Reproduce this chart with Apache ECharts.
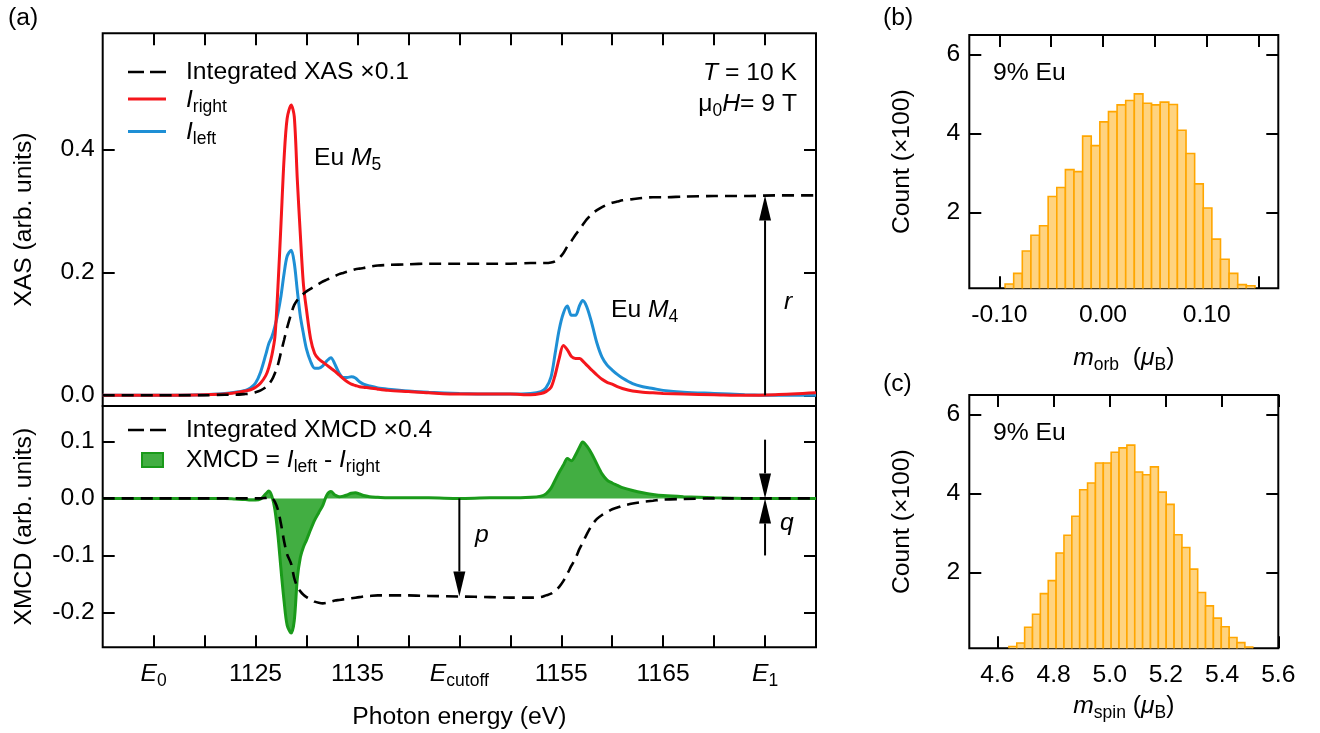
<!DOCTYPE html>
<html>
<head>
<meta charset="utf-8">
<script src="https://cdn.jsdelivr.net/npm/echarts/dist/echarts.min.js"></script>
<style>
html,body{margin:0;padding:0;background:#fff;}
#chart{width:1320px;height:733px;}
</style>
</head>
<body>
<div id="chart"></div>
<script>
// ---------------- data ----------------
const energy = [1110,1115,1120,1122,1123,1124,1124.5,1125,1125.5,1126,1126.3,1126.6,1126.9,1127.2,1127.5,1127.8,1128.1,1128.5,1128.8,1129.1,1129.4,1129.7,1130,1130.4,1130.8,1131.2,1131.6,1132,1132.4,1132.8,1133.2,1133.6,1134,1134.4,1134.8,1135.2,1135.6,1136.2,1137,1138,1140,1142,1145,1148,1150,1152,1153,1153.5,1154,1154.4,1154.8,1155.2,1155.6,1156,1156.4,1156.8,1157.1,1157.5,1158,1158.5,1159,1159.5,1160,1160.5,1161,1162,1163,1164,1165,1167,1170,1173,1176,1180];

const iRight = [0,0,0.001,0.002,0.004,0.007,0.009,0.013,0.020,0.032,0.045,0.065,0.095,0.177,0.28,0.385,0.45,0.472,0.453,0.35,0.26,0.18,0.139,0.092,0.068,0.059,0.054,0.049,0.044,0.039,0.033,0.027,0.022,0.018,0.016,0.014,0.013,0.012,0.010,0.008,0.006,0.004,0.002,0.002,0.002,0.001,0.003,0.006,0.013,0.033,0.060,0.081,0.074,0.063,0.060,0.060,0.056,0.049,0.041,0.033,0.026,0.021,0.018,0.014,0.011,0.007,0.005,0.004,0.003,0.002,0.001,0.000,0.001,0.004];

const iLeft = [0,0,0.001,0.003,0.005,0.008,0.012,0.020,0.038,0.066,0.084,0.095,0.112,0.134,0.162,0.198,0.226,0.236,0.215,0.17,0.128,0.10,0.075,0.055,0.044,0.044,0.048,0.056,0.061,0.050,0.036,0.029,0.029,0.030,0.028,0.022,0.018,0.015,0.012,0.010,0.007,0.005,0.003,0.002,0.002,0.003,0.006,0.012,0.030,0.068,0.107,0.133,0.145,0.130,0.130,0.146,0.154,0.144,0.117,0.085,0.062,0.049,0.041,0.034,0.028,0.019,0.014,0.011,0.008,0.005,0.003,0.001,0.000,0.000];

const intXAS = [0,0,0,0.001,0.001,0.002,0.003,0.005,0.008,0.013,0.018,0.025,0.036,0.05,0.07,0.09,0.11,0.133,0.147,0.155,0.161,0.165,0.169,0.173,0.177,0.181,0.185,0.188,0.191,0.194,0.197,0.199,0.201,0.203,0.205,0.206,0.207,0.209,0.211,0.212,0.213,0.214,0.214,0.214,0.214,0.215,0.215,0.215,0.216,0.218,0.223,0.231,0.242,0.251,0.261,0.270,0.277,0.286,0.295,0.301,0.306,0.310,0.313,0.315,0.317,0.319,0.321,0.322,0.322,0.323,0.324,0.324,0.325,0.325];

const xmcd = [0,0,0,0,-0.001,-0.002,-0.003,-0.003,-0.001,0.008,0.013,0.004,-0.02,-0.065,-0.125,-0.18,-0.222,-0.236,-0.214,-0.14,-0.103,-0.085,-0.073,-0.055,-0.038,-0.025,-0.012,0.006,0.012,0.006,0.003,0.004,0.006,0.009,0.010,0.008,0.005,0.003,0.002,0.001,0.001,0.001,0,0.001,0.001,0.002,0.004,0.008,0.018,0.032,0.046,0.058,0.070,0.066,0.076,0.090,0.099,0.092,0.078,0.060,0.043,0.032,0.027,0.023,0.019,0.014,0.010,0.007,0.005,0.003,0.001,0,0,0];

const intXMCD = [0,0,0,0,0,0,0,0,0,0.001,0.002,0.001,-0.006,-0.02,-0.045,-0.075,-0.098,-0.115,-0.14,-0.155,-0.163,-0.169,-0.173,-0.177,-0.181,-0.183,-0.184,-0.183,-0.181,-0.179,-0.178,-0.177,-0.176,-0.175,-0.174,-0.173,-0.172,-0.171,-0.170,-0.170,-0.170,-0.171,-0.172,-0.173,-0.174,-0.174,-0.173,-0.170,-0.167,-0.162,-0.155,-0.145,-0.132,-0.118,-0.105,-0.088,-0.078,-0.063,-0.047,-0.036,-0.029,-0.024,-0.019,-0.016,-0.013,-0.009,-0.006,-0.004,-0.002,-0.001,0,0,0,0];

// histogram (b): m_orb, counts in units of 100
const orbStart = -0.0945, orbWidth = 0.00831;
const orbCounts = [0.185,0.455,1.02,1.42,1.66,2.40,2.63,3.08,3.03,3.93,3.69,4.29,4.55,4.72,4.83,5.00,4.76,4.72,4.79,4.73,4.08,3.49,2.72,2.11,1.32,0.81,0.455,0.17,0.14];
// histogram (c): m_spin
const spinStart = 4.641, spinWidth = 0.028;
const spinCounts = [0.12,0.21,0.61,0.94,1.46,1.79,2.49,2.94,3.42,4.09,4.26,4.77,4.77,5.04,5.15,5.22,4.54,4.47,4.67,4.03,3.72,2.95,2.63,2.08,1.49,1.15,0.84,0.62,0.35,0.22,0.11];

// tick values / labels
const energyTicks = [1115,1120,1125,1130,1135,1140,1145,1150,1155,1160,1165,1170,1175];
const energyLabelValues = [1115,1125,1135,1145,1155,1165,1175];
const energyLabelTexts = ['{i|E}{s|0}','1125','1135','{i|E}{s|cutoff}','1155','1165','{i|E}{s|1}'];
const xasTicks = [0,0.2,0.4];
const xmcdTicks = [-0.2,-0.1,0,0.1];
const orbTicks = [-0.10,-0.05,0,0.05,0.10,0.15];
const orbLabels = [-0.10,0,0.10];
const spinTicks = [4.6,4.8,5.0,5.2,5.4,5.6];
const countTicks = [2,4,6];

// arrows: [x, from, to]
const xasArrows = [[1175, 0, 0.325]];
const xmcdArrows = [[1145, 0, -0.172], [1175, 0.103, 0], [1175, -0.1, 0]];

// ---------------- chart ----------------
const FONT = '"Liberation Sans", Arial, Helvetica, sans-serif';
const FS = 24.7;
const RICH = {
  n: {fontSize: FS, fontFamily: FONT, color: '#000'},
  i: {fontSize: FS, fontFamily: FONT, fontStyle: 'italic', color: '#000'},
  s: {fontSize: 17.5, fontFamily: FONT, color: '#000', lineHeight: 10, padding: [14, 0, 0, 0]}
};
const pairs = (xs, ys) => xs.map((x, i) => [x, ys[i]]);
const RED = '#f5161c', BLUE = '#1e8fd5', GREEN_L = '#1a9a1a', GREEN_F = '#42ae42';
const ORANGE_F = '#ffd37f', ORANGE_S = '#ffa600';

const tickStyle = {show: true, inside: true, length: 12, lineStyle: {color: '#000', width: 2}};
function ax(grid, min, max, ticks, opts) {
  return Object.assign({
    type: 'value', gridIndex: grid, min: min, max: max,
    axisLine: {show: false, onZero: false}, splitLine: {show: false},
    axisTick: Object.assign({}, tickStyle, {customValues: ticks}),
    axisLabel: {show: false}
  }, opts || {});
}
const labelBase = {show: true, color: '#000', fontSize: FS, fontFamily: FONT, rich: RICH};
const nameStyle = {color: '#000', fontSize: FS, fontFamily: FONT, rich: RICH};

const gridBase = {show: true, borderColor: '#000', borderWidth: 2, backgroundColor: 'transparent', containLabel: false};

const option = {
  animation: false,
  grid: [
    Object.assign({left: 102.7, top: 33.3, width: 713.3, height: 372.7}, gridBase),
    Object.assign({left: 102.7, top: 406, width: 713.3, height: 241.3}, gridBase),
    Object.assign({left: 969.3, top: 35, width: 309, height: 253.3}, gridBase),
    Object.assign({left: 969.3, top: 395, width: 309, height: 253.3}, gridBase)
  ],
  xAxis: [
    ax(0, 1110, 1180, [], {position: 'bottom', axisTick: {show: false}}),
    ax(0, 1110, 1180, energyTicks, {position: 'top'}),
    ax(1, 1110, 1180, energyTicks, {
      position: 'bottom',
      axisLabel: Object.assign({}, labelBase, {margin: 14, customValues: energyLabelValues,
        formatter: v => energyLabelTexts[energyLabelValues.indexOf(Math.round(v))] || ''}),
      name: 'Photon energy (eV)', nameLocation: 'middle', nameGap: 57, nameTextStyle: nameStyle
    }),
    ax(2, -0.129, 0.169, orbTicks, {
      position: 'bottom',
      axisLabel: Object.assign({}, labelBase, {margin: 14, customValues: orbLabels, formatter: v => v.toFixed(2)}),
      name: '{i|m}{s|orb}  ({i|μ}{s|B})', nameLocation: 'middle', nameGap: 57, nameTextStyle: nameStyle
    }),
    ax(2, -0.129, 0.169, orbTicks, {position: 'top'}),
    ax(3, 4.5, 5.6, spinTicks, {
      position: 'bottom',
      axisLabel: Object.assign({}, labelBase, {margin: 14, customValues: spinTicks, formatter: v => v.toFixed(1)}),
      name: '{i|m}{s|spin} ({i|μ}{s|B})', nameLocation: 'middle', nameGap: 45, nameTextStyle: nameStyle
    }),
    ax(3, 4.5, 5.6, spinTicks, {position: 'top'})
  ],
  yAxis: [
    ax(0, -0.0174, 0.5886, xasTicks, {
      position: 'left',
      axisLabel: Object.assign({}, labelBase, {margin: 8, customValues: xasTicks, formatter: v => v.toFixed(1)}),
      name: 'XAS (arb. units)', nameLocation: 'middle', nameGap: 66, nameTextStyle: nameStyle
    }),
    ax(0, -0.0174, 0.5886, xasTicks, {position: 'right'}),
    ax(1, -0.261, 0.162, xmcdTicks, {
      position: 'left',
      axisLabel: Object.assign({}, labelBase, {margin: 8, customValues: xmcdTicks, formatter: v => v.toFixed(1)}),
      name: 'XMCD (arb. units)', nameLocation: 'middle', nameGap: 66, nameTextStyle: nameStyle
    }),
    ax(1, -0.261, 0.162, xmcdTicks, {position: 'right'}),
    ax(2, 0.076, 6.49, countTicks, {
      position: 'left',
      axisLabel: Object.assign({}, labelBase, {margin: 9, customValues: countTicks, formatter: v => String(v)}),
      name: 'Count (×100)', nameLocation: 'middle', nameGap: 55, nameTextStyle: nameStyle
    }),
    ax(2, 0.076, 6.49, countTicks, {position: 'right'}),
    ax(3, 0.076, 6.49, countTicks, {
      position: 'left',
      axisLabel: Object.assign({}, labelBase, {margin: 9, customValues: countTicks, formatter: v => String(v)}),
      name: 'Count (×100)', nameLocation: 'middle', nameGap: 55, nameTextStyle: nameStyle
    }),
    ax(3, 0.076, 6.49, countTicks, {position: 'right'})
  ],
  series: []
};

// arrow drawn through the axes' scales: shaft from (x, from) to (x, to), head at "to"
function arrowItem(params, api) {
  const x = api.value(0), y0 = api.value(1), y1 = api.value(2);
  const a = api.coord([x, y0]), b = api.coord([x, y1]);
  const dx = b[0] - a[0], dy = b[1] - a[1];
  const L = Math.sqrt(dx * dx + dy * dy) || 1;
  const ux = dx / L, uy = dy / L;
  const HL = 25, HW = 6;
  const bx = b[0] - ux * HL, by = b[1] - uy * HL;
  return {type: 'group', children: [
    {type: 'line', shape: {x1: a[0], y1: a[1], x2: bx, y2: by}, style: {stroke: '#000', lineWidth: 2}},
    {type: 'polygon', shape: {points: [[b[0], b[1]], [bx - uy * HW, by + ux * HW], [bx + uy * HW, by - ux * HW]]},
     style: {fill: '#000', stroke: null}}
  ]};
}

option.series.push(
  {name: 'I_left', type: 'line', xAxisIndex: 0, yAxisIndex: 0, data: pairs(energy, iLeft),
   showSymbol: false, symbol: 'none', smooth: 0.3, lineStyle: {color: BLUE, width: 3}, z: 3},
  {name: 'I_right', type: 'line', xAxisIndex: 0, yAxisIndex: 0, data: pairs(energy, iRight),
   showSymbol: false, symbol: 'none', smooth: 0.3, lineStyle: {color: RED, width: 3}, z: 4},
  {name: 'Integrated XAS', type: 'line', xAxisIndex: 0, yAxisIndex: 0, data: pairs(energy, intXAS),
   showSymbol: false, symbol: 'none', smooth: 0.3, lineStyle: {color: '#000', width: 2.6, type: [12, 7]}, z: 5},
  {name: 'XMCD', type: 'line', xAxisIndex: 2, yAxisIndex: 2, data: pairs(energy, xmcd),
   showSymbol: false, symbol: 'none', smooth: 0.3, lineStyle: {color: GREEN_L, width: 3},
   areaStyle: {color: GREEN_F, opacity: 1, origin: 'auto'}, z: 3},
  {name: 'Integrated XMCD', type: 'line', xAxisIndex: 2, yAxisIndex: 2, data: pairs(energy, intXMCD),
   showSymbol: false, symbol: 'none', smooth: 0.3, lineStyle: {color: '#000', width: 2.6, type: [12, 7]}, z: 5},
  {name: 'arrow r', type: 'custom', xAxisIndex: 0, yAxisIndex: 0, data: xasArrows, renderItem: arrowItem,
   encode: {x: 0, y: [1, 2]}, clip: false, silent: true, z: 6},
  {name: 'arrows p q', type: 'custom', xAxisIndex: 2, yAxisIndex: 2, data: xmcdArrows, renderItem: arrowItem,
   encode: {x: 0, y: [1, 2]}, clip: false, silent: true, z: 6}
);

function histItem(params, api) {
  const x0 = api.value(0), x1 = api.value(1), c = api.value(2);
  const p0 = api.coord([x0, c]);
  const p1 = api.coord([x1, 0]);
  return {type: 'rect', shape: {x: p0[0], y: p0[1], width: p1[0] - p0[0], height: p1[1] - p0[1]},
          style: {fill: ORANGE_F, stroke: ORANGE_S, lineWidth: 1.6}};
}
const orbData = orbCounts.map((c, i) => [orbStart + i * orbWidth, orbStart + (i + 1) * orbWidth, c]);
const spinData = spinCounts.map((c, i) => [spinStart + i * spinWidth, spinStart + (i + 1) * spinWidth, c]);
option.series.push(
  {name: 'm_orb', type: 'custom', xAxisIndex: 3, yAxisIndex: 4, data: orbData, renderItem: histItem,
   encode: {x: [0, 1], y: 2}, clip: true, silent: true, z: 1},
  {name: 'm_spin', type: 'custom', xAxisIndex: 5, yAxisIndex: 6, data: spinData, renderItem: histItem,
   encode: {x: [0, 1], y: 2}, clip: true, silent: true, z: 1}
);

// annotation texts and legends
function txt(x, y, text, align) {
  return {type: 'text', x: x, y: y, z: 100, silent: true,
    style: {text: text, rich: RICH, fill: '#000', fontSize: FS, fontFamily: FONT,
      align: align || 'left', textAlign: align || 'left', verticalAlign: 'middle', textVerticalAlign: 'middle'}};
}
function seg(x1, y1, x2, y2, stroke, w, dash) {
  return {type: 'line', z: 100, silent: true, shape: {x1: x1, y1: y1, x2: x2, y2: y2},
    style: {stroke: stroke, lineWidth: w, lineDash: dash || null}};
}
option.graphic = [
  txt(8, 18, '(a)'), txt(883, 18, '(b)'), txt(883, 384, '(c)'),
  seg(128, 72, 166, 72, '#000', 2.6, [16, 6]), txt(186, 72, 'Integrated XAS ×0.1'),
  seg(128, 99, 166, 99, RED, 3), txt(186, 100, '{i|I}{s|right}'),
  seg(128, 131.5, 166, 131.5, BLUE, 3), txt(186, 132, '{i|I}{s|left}'),
  txt(797, 73, '{i|T} = 10 K', 'right'),
  txt(797, 104, 'μ{s|0}{i|H}= 9 T', 'right'),
  txt(314, 158, 'Eu {i|M}{s|5}'),
  txt(611, 310, 'Eu {i|M}{s|4}'),
  txt(784, 302, '{i|r}'),
  seg(128, 430, 166, 430, '#000', 2.6, [16, 6]), txt(186, 430, 'Integrated XMCD ×0.4'),
  {type: 'rect', z: 100, silent: true, shape: {x: 142, y: 453, width: 21, height: 14},
   style: {fill: GREEN_F, stroke: GREEN_L, lineWidth: 2}},
  txt(186, 460, 'XMCD = {i|I}{s|left} - {i|I}{s|right}'),
  txt(475, 535, '{i|p}'),
  txt(780, 523, '{i|q}'),
  txt(993, 73, '9% Eu'),
  txt(993, 433, '9% Eu')
];

const chart = echarts.init(document.getElementById('chart'), null, {renderer: 'canvas'});
chart.setOption(option);
</script>
</body>
</html>
